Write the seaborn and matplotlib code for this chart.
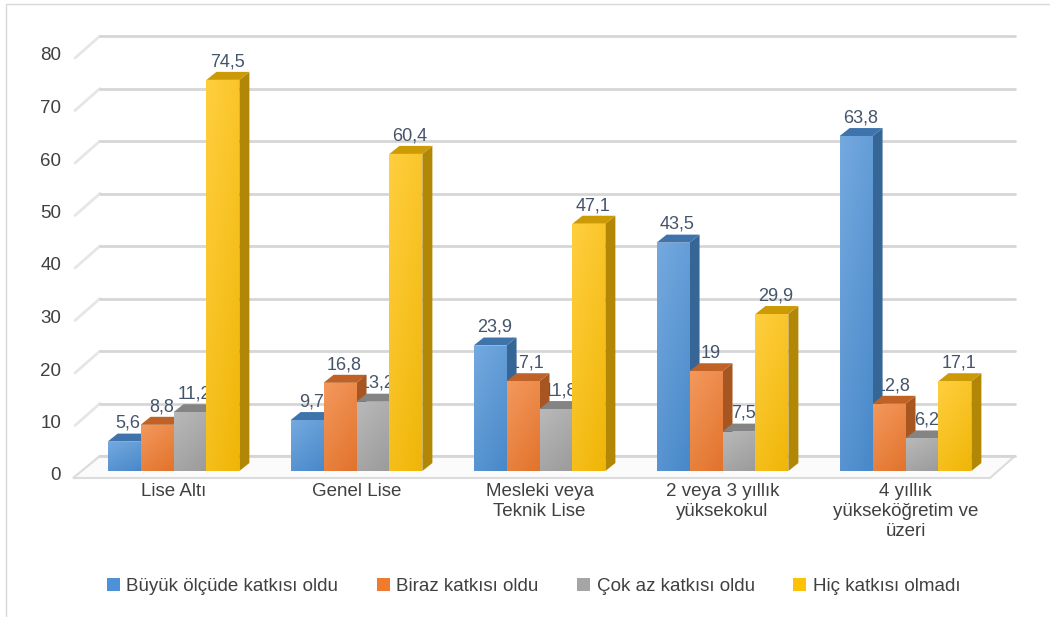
import numpy as np
import pandas as pd
import matplotlib
matplotlib.use("Agg")
import matplotlib.pyplot as plt
import matplotlib.transforms as mtransforms
from matplotlib.patches import Polygon, Patch
from matplotlib.lines import Line2D
from matplotlib.colors import to_rgb
import seaborn as sns

categories = ["Lise Altı", "Genel Lise", "Mesleki veya\nTeknik Lise",
              "2 veya 3 yıllık\nyüksekokul", "4 yıllık\nyükseköğretim ve\nüzeri"]
series = ["Büyük ölçüde katkısı oldu", "Biraz katkısı oldu",
          "Çok az katkısı oldu", "Hiç katkısı olmadı"]
buyuk = [5.6, 9.7, 23.9, 43.5, 63.8]
biraz = [8.8, 16.8, 17.1, 19.0, 12.8]
cok_az = [11.2, 13.2, 11.8, 7.5, 6.2]
hic = [74.5, 60.4, 47.1, 29.9, 17.1]
value_labels = [["5,6", "9,7", "23,9", "43,5", "63,8"],
                ["8,8", "16,8", "17,1", "19", "12,8"],
                ["11,2", "13,2", "11,8", "7,5", "6,2"],
                ["74,5", "60,4", "47,1", "29,9", "17,1"]]
yticks = [0, 10, 20, 30, 40, 50, 60, 70, 80]
colors = ["#4D91D6", "#F07B2F", "#A5A5A5", "#FFC108"]

rows = []
for s, vals in zip(series, [buyuk, biraz, cok_az, hic]):
    for c, v in zip(categories, vals):
        rows.append({"cat": c, "series": s, "val": v})
df = pd.DataFrame(rows)

sns.set_theme(style="white")
plt.rcParams["font.family"] = ["Liberation Sans", "DejaVu Sans"]

W, H = 1050, 617
fig = plt.figure(figsize=(W / 100, H / 100), dpi=100)
x0, x1, yb, yt = 82, 997, 471, 51
ax = fig.add_axes([x0 / W, 1 - yb / H, (x1 - x0) / W, (yb - yt) / H])
ax.set_facecolor("none")

sns.barplot(data=df, x="cat", y="val", hue="series", order=categories,
            hue_order=series, palette=colors, width=0.72, saturation=1,
            ax=ax, legend=False, zorder=3, edgecolor="none", linewidth=0)

ax.set_xlim(-0.5, 4.5)
ax.set_ylim(0, 80)
ax.set_yticks(yticks)
ax.set_xlabel("")
ax.set_ylabel("")
for sp in ax.spines.values():
    sp.set_visible(False)
ax.tick_params(axis="y", length=0, pad=15, labelsize=13.5, labelcolor="#404040")
ax.tick_params(axis="x", length=0, pad=9, labelsize=13.5, labelcolor="#404040")
for lab in ax.get_yticklabels():
    lab.set_transform(lab.get_transform() +
                      mtransforms.ScaledTranslation(0, -3 / 100, fig.dpi_scale_trans))

# back wall gridlines (shifted into depth)
gshift = mtransforms.ScaledTranslation(18 / 100, 15 / 100, fig.dpi_scale_trans)
blend = mtransforms.blended_transform_factory(ax.transAxes, ax.transData)
for v in yticks:
    ax.plot([0, 1], [v, v], color="#D6D6D6", lw=2.0, zorder=1,
            transform=blend + gshift, clip_on=False, solid_capstyle="round")

fig.canvas.draw()
def px(x, y):
    return ax.transData.transform((x, y))

# left wall diagonals
for v in yticks:
    fx, fy = px(-0.5, v)
    ax.add_line(Line2D([fx - 7, fx + 18], [fy - 7, fy + 15], color="#E6E6E6",
                       lw=2.0, zorder=0.5, transform=mtransforms.IdentityTransform(),
                       clip_on=False))

# floor
fl, fb = px(-0.5, 0)
fr, _ = px(4.5, 0)
floor_pts = [(fl - 9, fb - 7), (fr - 7, fb - 7), (fr + 18, fb + 15), (fl + 18, fb + 15)]
ax.add_patch(Polygon(floor_pts, closed=True, facecolor="#FBFBFB",
                     edgecolor="#DCDCDC", lw=1.5, zorder=0.6,
                     transform=mtransforms.IdentityTransform(), clip_on=False))

# 3D faces + gradient fronts on bars
dx_px, dy_px = 10, 8
dinv = ax.transData.inverted()
bars = [p for p in ax.patches if type(p).__name__ == "Rectangle"]
for p in bars:
    if p.get_height() <= 0:
        continue
    bx, by = p.get_x(), p.get_y()
    bw, bh = p.get_width(), p.get_height()
    fc = np.array(p.get_facecolor()[:3])
    l, b = px(bx, by)
    r, t = px(bx + bw, by + bh)
    side = [(r, b), (r, t), (r + dx_px, t + dy_px), (r + dx_px, b + dy_px)]
    top = [(l, t), (r, t), (r + dx_px, t + dy_px), (l + dx_px, t + dy_px)]
    ax.add_patch(Polygon(dinv.transform(side), closed=True,
                         facecolor=tuple(fc * 0.70), edgecolor="none", zorder=2.9))
    ax.add_patch(Polygon(dinv.transform(top), closed=True,
                         facecolor=tuple(fc * 0.80), edgecolor="none", zorder=2.9))
    # gradient front face (light at top-left, deeper at bottom)
    ny, nx = 64, 16
    yy = np.linspace(1, 0, ny)[:, None]
    xx = np.linspace(0, 1, nx)[None, :]
    light = fc + (1 - fc) * 0.22
    dark = fc * 0.94
    wgt = np.clip(0.65 * yy + 0.35 * (1 - xx), 0, 1)[..., None]
    img = dark * (1 - wgt) + light * wgt
    im = ax.imshow(img, extent=(bx, bx + bw, by, by + bh), aspect="auto",
                   zorder=3.1, interpolation="bilinear")
    im.set_clip_path(p)

ax.set_xlim(-0.5, 4.5)
ax.set_ylim(0, 80)

# value labels
k = 0
for si in range(len(series)):
    for ci in range(len(categories)):
        p = bars[k]
        k += 1
        cx = p.get_x() + p.get_width() / 2
        ax.annotate(value_labels[si][ci], (cx, p.get_height()),
                    xytext=(3, 7), textcoords="offset points",
                    ha="center", va="bottom", fontsize=13, color="#44546A",
                    zorder=2.5)

# legend
handles = [Patch(facecolor=c, edgecolor="none") for c in colors]
fig.legend(handles, series, loc="center", ncol=4, bbox_to_anchor=(0.508, 0.05),
           frameon=False, fontsize=13.5, handlelength=0.7, handleheight=0.7,
           handletextpad=0.35, columnspacing=2.05, labelcolor="#404040")

# chart border (top & left)
fig.add_artist(Line2D([6 / W, 1], [1 - 4 / H, 1 - 4 / H], color="#D9D9D9", lw=1))
fig.add_artist(Line2D([6 / W, 6 / W], [0, 1 - 4 / H], color="#D9D9D9", lw=1))

fig.savefig("out.png", dpi=100, facecolor="white")
